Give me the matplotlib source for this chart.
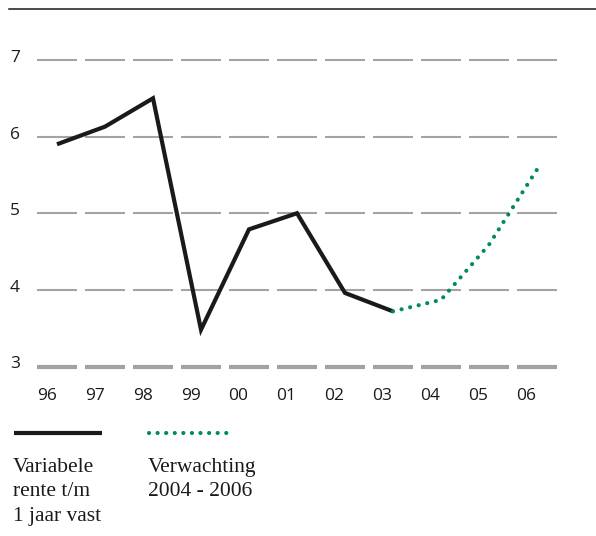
import matplotlib
matplotlib.use("Agg")
import matplotlib.pyplot as plt
from matplotlib.lines import Line2D

# ---- data ----
years = ["96", "97", "98", "99", "00", "01", "02", "03", "04", "05", "06"]
rente = [5.90, 6.13, 6.50, 3.48, 4.79, 5.00, 3.96, 3.72]          # 96..03
verwachting_years = ["03", "04", "05", "06"]
verwachting = [3.72, 3.87, 4.59, 5.57]
yticks = [3, 4, 5, 6, 7]
legend_labels = ["Variabele\nrente t/m\n1 jaar vast", "Verwachting\n2004 - 2006"]

BLACK = "#1a1a1a"
GREEN = "#008a5e"
GRID = "#a3a3a3"

W, H = 596, 536
fig = plt.figure(figsize=(W / 100, H / 100), dpi=100)
ax = fig.add_axes([33 / W, 1 - 374.2 / H, 528 / W, (374.2 - 52.3) / H])
ax.set_xlim(-0.5, len(years) - 0.5)
ax.set_ylim(2.9, 7.1)
ax.axis("off")

xpos = list(range(len(years)))

# dashed grid: one dash per category
for yv in yticks:
    lw = 3.0 if yv == yticks[0] else 1.5
    ax.hlines([yv] * len(xpos), [x - 0.417 for x in xpos], [x + 0.417 for x in xpos],
              colors=GRID, linewidth=lw, zorder=1)
    ax.annotate(str(yv), xy=(0, yv), xycoords=("axes fraction", "data"),
                xytext=(-13, 1.5), textcoords="offset points", ha="center", va="center",
                fontsize=12.5, family="Open Sans", color=BLACK)

for x, lab in zip(xpos, years):
    ax.annotate(lab, xy=(x, 3), xycoords="data", xytext=(-7.5, -21), textcoords="offset points",
                ha="center", va="center", fontsize=12.5, family="Open Sans", color=BLACK)

# series
ax.plot(xpos[:len(rente)], rente, color=BLACK, linewidth=3.0, solid_joinstyle="miter",
        solid_capstyle="butt", zorder=3)
vx = [years.index(y) for y in verwachting_years]
ax.plot(vx, verwachting, color=GREEN, linewidth=3.0, linestyle=(0, (0.01, 2.1)),
        dash_capstyle="round", zorder=4)

# top rule
fig.add_artist(Line2D([9 / W, 1.0], [1 - 9 / H, 1 - 9 / H], color=BLACK, linewidth=1.1))

# legend
fig.add_artist(Line2D([14 / W, 102 / W], [1 - 433 / H] * 2, color=BLACK, linewidth=3.0,
                      solid_capstyle="butt"))
fig.add_artist(Line2D([149 / W, 234 / W], [1 - 433 / H] * 2, color=GREEN, linewidth=3.0,
                      linestyle=(0, (0.01, 2.05)), dash_capstyle="round"))
fig.text(13 / W, 1 - 458 / H, legend_labels[0], ha="left", va="top", fontsize=15.5,
         family="Liberation Serif", color=BLACK, linespacing=1.38)
fig.text(148 / W, 1 - 458 / H, legend_labels[1], ha="left", va="top", fontsize=15.5,
         family="Liberation Serif", color=BLACK, linespacing=1.38)

fig.savefig("out.png", dpi=100)
